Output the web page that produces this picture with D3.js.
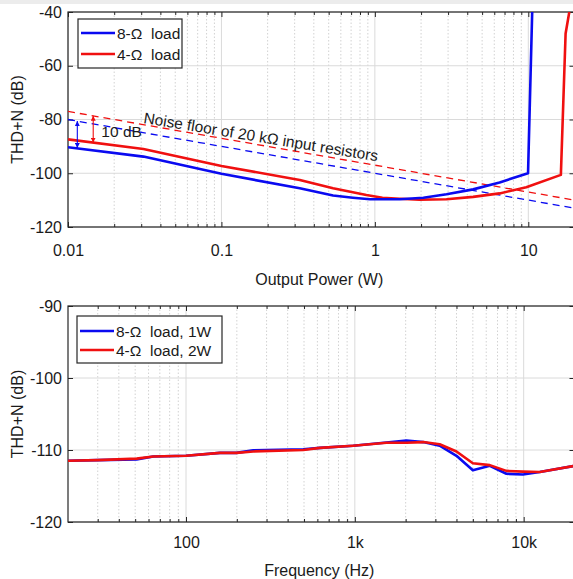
<!DOCTYPE html>
<html>
<head>
<meta charset="utf-8">
<script src="https://cdn.jsdelivr.net/npm/d3@7"></script>
<style>
	html, body { margin: 0; padding: 0; background: #fff; }
	svg { display: block; font-family: "Liberation Sans", Arial, Helvetica, sans-serif; }
	.grid-major line { stroke: #dadada; stroke-width: 1; }
	.grid-minor line { stroke: #d2d2d2; stroke-width: 1; stroke-dasharray: 1.5, 2; }
	.axis path { display: none; }
	.axis line { stroke: #262626; stroke-width: 1; }
	.axis text { fill: #1a1a1a; font-size: 16px; }
	.frame { fill: none; stroke: #262626; stroke-width: 1.2; }
	.axis-label { fill: #1a1a1a; font-size: 16px; }
	.legend-box { fill: #fff; stroke: #262626; stroke-width: 1.2; }
	.legend-text { fill: #1a1a1a; font-size: 15.5px; white-space: pre; }
	.note { fill: #1a1a1a; font-size: 15.5px; }
</style>
</head>
<body>
<div id="chart"></div>
<script>
	'use strict';

	// ---- top panel: THD+N vs output power
	var powerTicks = [0.01, 0.1, 1, 10],
		powerTickLabels = ['0.01', '0.1', '1', '10'],
		powerMinor = [0.02, 0.03, 0.04, 0.05, 0.06, 0.07, 0.08, 0.09,
			0.2, 0.3, 0.4, 0.5, 0.6, 0.7, 0.8, 0.9,
			2, 3, 4, 5, 6, 7, 8, 9, 20],
		powerYTicks = [-40, -60, -80, -100, -120];

	var power8 = [0.01, 0.031, 0.1, 0.324, 0.534, 0.72, 0.93, 1.45, 2.07, 2.93, 4.37, 6.5, 9.96, 10.6, 10.7],
		thd8 = [-90.3, -93.8, -100.2, -105.6, -108.3, -109.1, -109.7, -109.7, -109.1, -107.8, -106.0, -103.4, -100.0, -40, -30];

	var power4 = [0.01, 0.031, 0.1, 0.324, 0.534, 0.88, 1.12, 1.45, 1.95, 2.93, 4.37, 6.5, 9.7, 16.3, 17.5, 18.5, 18.9],
		thd4 = [-87.4, -91.0, -97.3, -102.5, -105.6, -108.1, -109.1, -109.5, -109.8, -109.7, -108.8, -107.5, -105.2, -100.6, -48, -40, -35];

	// noise floor of the input resistors (straight lines on log axis)
	var noisePower = [0.01, 20],
		noise8 = [-80, -113],
		noise4 = [-77, -110];

	// 10 dB arrows: [power, from dB, to dB]
	var arrow8 = [0.0115, -80.6, -90.6],
		arrow4 = [0.0146, -78.6, -88.6];

	// ---- bottom panel: THD+N vs frequency
	var freqTicks = [100, 1000, 10000],
		freqTickLabels = ['100', '1k', '10k'],
		freqMinor = [30, 40, 50, 60, 70, 80, 90,
			200, 300, 400, 500, 600, 700, 800, 900,
			2000, 3000, 4000, 5000, 6000, 7000, 8000, 9000, 20000],
		freqYTicks = [-90, -100, -110, -120];

	var freq = [20, 30, 51, 64, 100, 159, 199, 250, 495, 621, 978, 1540, 2020, 2540, 3180, 4000, 5000, 6300, 7900, 9900, 12450, 20000],
		thdFreq8 = [-111.5, -111.4, -111.3, -110.9, -110.8, -110.4, -110.4, -110.05, -109.9, -109.7, -109.4, -108.95, -108.7, -108.9, -109.4, -110.8, -112.8, -112.2, -113.3, -113.4, -113.05, -112.2],
		thdFreq4 = [-111.5, -111.4, -111.2, -110.9, -110.8, -110.4, -110.4, -110.2, -110.0, -109.7, -109.4, -109.0, -109.0, -108.9, -109.2, -110.2, -111.85, -112.1, -112.9, -113.0, -113.05, -112.2];

	var blue = '#0a0af0',
		red = '#f01010';

	var W = 573,
		H = 579;

	var svg = d3.select('#chart').append('svg')
		.attr('width', W)
		.attr('height', H);

	svg.append('rect')
		.attr('width', W)
		.attr('height', 4)
		.attr('fill', '#ececec');

	var defs = svg.append('defs');

	[['arrow-blue', blue], ['arrow-red', red]].forEach(function (m) {
		defs.append('marker')
			.attr('id', m[0])
			.attr('viewBox', '0 0 10 10')
			.attr('refX', 10)
			.attr('refY', 5)
			.attr('markerWidth', 5)
			.attr('markerHeight', 5)
			.attr('markerUnits', 'userSpaceOnUse')
			.attr('orient', 'auto-start-reverse')
			.append('path')
			.attr('d', 'M0,0 L10,5 L0,10 Z')
			.attr('fill', m[1]);
	});

	var drawPanel = function (cfg) {
		var left = 68,
			right = 574.5,
			top = cfg.top,
			bottom = cfg.bottom;

		var xScale = d3.scaleLog().domain(cfg.xDomain).range([left, right]),
			yScale = d3.scaleLinear().domain(cfg.yDomain).range([bottom, top]);

		var g = svg.append('g');

		defs.append('clipPath')
			.attr('id', cfg.id + '-clip')
			.append('rect')
			.attr('x', left)
			.attr('y', top)
			.attr('width', right - left)
			.attr('height', bottom - top);

		// grid lines
		g.append('g')
			.attr('class', 'grid-minor')
			.selectAll('line')
			.data(cfg.xMinor)
			.enter().append('line')
			.attr('x1', function (d) { return xScale(d); })
			.attr('x2', function (d) { return xScale(d); })
			.attr('y1', top)
			.attr('y2', bottom);

		g.append('g')
			.attr('class', 'grid-major')
			.selectAll('line')
			.data(cfg.xTicks)
			.enter().append('line')
			.attr('x1', function (d) { return xScale(d); })
			.attr('x2', function (d) { return xScale(d); })
			.attr('y1', top)
			.attr('y2', bottom);

		g.append('g')
			.attr('class', 'grid-major')
			.selectAll('line')
			.data(cfg.yTicks)
			.enter().append('line')
			.attr('x1', left)
			.attr('x2', right)
			.attr('y1', function (d) { return yScale(d); })
			.attr('y2', function (d) { return yScale(d); });

		// axes (ticks point inward)
		g.append('g')
			.attr('class', 'axis')
			.attr('transform', 'translate(0,' + bottom + ')')
			.call(d3.axisBottom(xScale)
				.tickValues(cfg.xTicks)
				.tickFormat(function (d, i) { return cfg.xTickLabels[i]; })
				.tickSizeInner(-5).tickSizeOuter(0).tickPadding(cfg.xPad));

		g.append('g')
			.attr('class', 'axis')
			.attr('transform', 'translate(0,' + bottom + ')')
			.call(d3.axisBottom(xScale).tickValues(cfg.xMinor).tickFormat('')
				.tickSizeInner(-3).tickSizeOuter(0));

		g.append('g')
			.attr('class', 'axis')
			.attr('transform', 'translate(0,' + top + ')')
			.call(d3.axisTop(xScale).tickValues(cfg.xTicks).tickFormat('')
				.tickSizeInner(-5).tickSizeOuter(0));

		g.append('g')
			.attr('class', 'axis')
			.attr('transform', 'translate(0,' + top + ')')
			.call(d3.axisTop(xScale).tickValues(cfg.xMinor).tickFormat('')
				.tickSizeInner(-3).tickSizeOuter(0));

		g.append('g')
			.attr('class', 'axis')
			.attr('transform', 'translate(' + left + ',0)')
			.call(d3.axisLeft(yScale).tickValues(cfg.yTicks)
				.tickFormat(function (d) { return String(d); })
				.tickSizeInner(-5).tickSizeOuter(0).tickPadding(6));

		g.append('g')
			.attr('class', 'axis')
			.attr('transform', 'translate(' + right + ',0)')
			.call(d3.axisRight(yScale).tickValues(cfg.yTicks).tickFormat('')
				.tickSizeInner(-5).tickSizeOuter(0));

		g.append('rect')
			.attr('class', 'frame')
			.attr('x', left)
			.attr('y', top)
			.attr('width', right - left)
			.attr('height', bottom - top);

		// axis labels
		g.append('text')
			.attr('class', 'axis-label')
			.attr('x', (left + right) / 2 - 2)
			.attr('y', cfg.xLabelY)
			.attr('text-anchor', 'middle')
			.text(cfg.xLabel);

		g.append('text')
			.attr('class', 'axis-label')
			.attr('transform', 'translate(23,' + ((top + bottom) / 2) + ') rotate(-90)')
			.attr('text-anchor', 'middle')
			.text('THD+N (dB)');

		var line = d3.line()
			.x(function (d) { return xScale(d[0]); })
			.y(function (d) { return yScale(d[1]); });

		var plot = g.append('g')
			.attr('clip-path', 'url(#' + cfg.id + '-clip)');

		cfg.series.forEach(function (s) {
			plot.append('path')
				.datum(d3.zip(s.x, s.y))
				.attr('fill', 'none')
				.attr('stroke', s.color)
				.attr('stroke-width', s.dashed ? 1.3 : 2.6)
				.attr('stroke-dasharray', s.dashed ? '7,5' : null)
				.attr('stroke-linejoin', 'round')
				.attr('d', line);
		});

		return { x: xScale, y: yScale, g: g, plot: plot };
	};

	var drawLegend = function (g, box, items) {
		g.append('rect')
			.attr('class', 'legend-box')
			.attr('x', box.x)
			.attr('y', box.y)
			.attr('width', box.w)
			.attr('height', box.h);

		items.forEach(function (it, i) {
			var ly = box.y + box.first + i * box.step;
			g.append('line')
				.attr('x1', box.x + 3)
				.attr('x2', box.x + 37)
				.attr('y1', ly)
				.attr('y2', ly)
				.attr('stroke', it.color)
				.attr('stroke-width', 2.6);
			g.append('text')
				.attr('class', 'legend-text')
				.attr('x', box.x + 39)
				.attr('y', ly)
				.attr('dy', '0.36em')
				.text(it.label);
		});
	};

	// TOP PANEL
	var topPanel = drawPanel({
		id: 'power',
		top: 12,
		bottom: 227,
		xDomain: [0.01, 20],
		yDomain: [-120, -40],
		xTicks: powerTicks,
		xTickLabels: powerTickLabels,
		xMinor: powerMinor,
		yTicks: powerYTicks,
		xPad: 18,
		xLabel: 'Output Power (W)',
		xLabelY: 285,
		series: [
			{ x: noisePower, y: noise4, color: red, dashed: true },
			{ x: noisePower, y: noise8, color: blue, dashed: true },
			{ x: power4, y: thd4, color: red },
			{ x: power8, y: thd8, color: blue }
		]
	});

	// 10 dB arrows
	[[arrow8, blue, 'arrow-blue'], [arrow4, red, 'arrow-red']].forEach(function (a) {
		topPanel.g.append('line')
			.attr('x1', topPanel.x(a[0][0]))
			.attr('x2', topPanel.x(a[0][0]))
			.attr('y1', topPanel.y(a[0][1]))
			.attr('y2', topPanel.y(a[0][2]))
			.attr('stroke', a[1])
			.attr('stroke-width', 1.1)
			.attr('marker-start', 'url(#' + a[2] + ')')
			.attr('marker-end', 'url(#' + a[2] + ')');
	});

	topPanel.g.append('text')
		.attr('class', 'note')
		.attr('x', topPanel.x(0.0165))
		.attr('y', topPanel.y(-84.3))
		.attr('dy', '0.36em')
		.text('10 dB');

	topPanel.g.append('text')
		.attr('class', 'note')
		.attr('transform', 'translate(' + topPanel.x(0.0308) + ',' + topPanel.y(-81.3) + ') rotate(9.3)')
		.text('Noise floor of 20 k\u03A9 input resistors');

	drawLegend(topPanel.g, { x: 78, y: 19, w: 104, h: 49, first: 14, step: 21 }, [
		{ label: '8-\u03A9  load', color: blue },
		{ label: '4-\u03A9  load', color: red }
	]);

	// BOTTOM PANEL
	var bottomPanel = drawPanel({
		id: 'freq',
		top: 306,
		bottom: 522,
		xDomain: [20, 20000],
		yDomain: [-120, -90],
		xTicks: freqTicks,
		xTickLabels: freqTickLabels,
		xMinor: freqMinor,
		yTicks: freqYTicks,
		xPad: 15,
		xLabel: 'Frequency (Hz)',
		xLabelY: 576,
		series: [
			{ x: freq, y: thdFreq8, color: blue },
			{ x: freq, y: thdFreq4, color: red }
		]
	});

	drawLegend(bottomPanel.g, { x: 77, y: 316, w: 145, h: 47, first: 15, step: 19 }, [
		{ label: '8-\u03A9  load, 1W', color: blue },
		{ label: '4-\u03A9  load, 2W', color: red }
	]);
</script>
</body>
</html>
